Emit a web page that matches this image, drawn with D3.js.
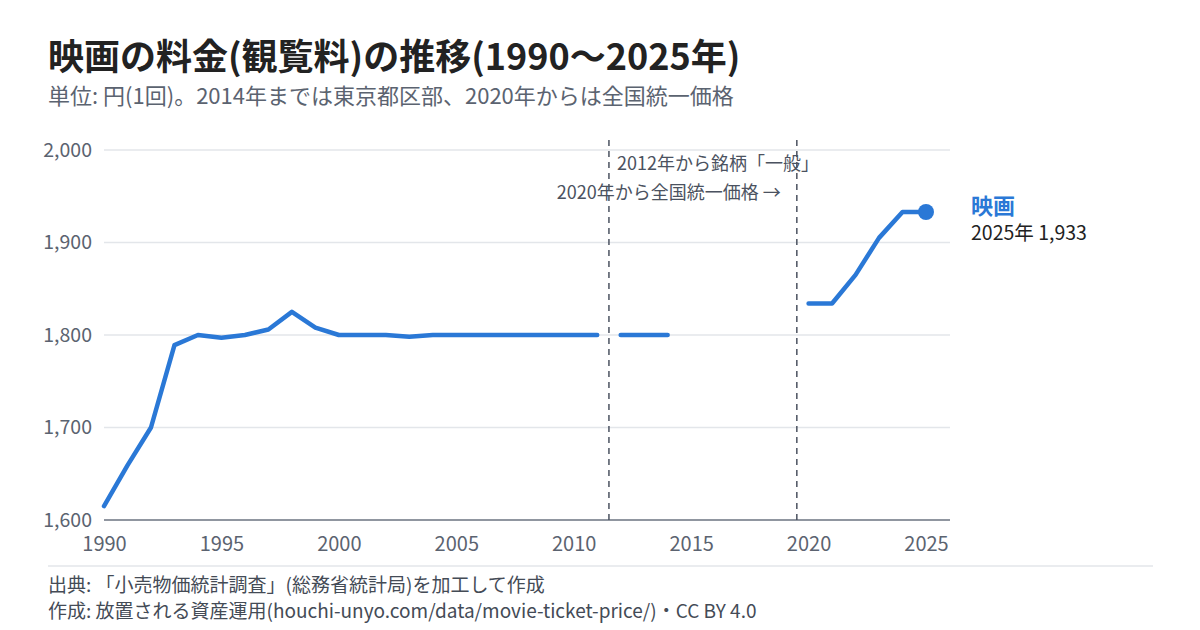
<!DOCTYPE html>
<html>
<head>
<meta charset="utf-8">
<script src="https://cdn.jsdelivr.net/npm/d3@7"></script>
<style>
  body { margin: 0; background: #fff; }
  text { font-family: "Noto Sans CJK JP", "Noto Sans", sans-serif; }
</style>
</head>
<body>
<script>
// Data: movie ticket price (yen), gaps where the series is broken
var years = [1990, 1991, 1992, 1993, 1994, 1995, 1996, 1997, 1998, 1999,
  2000, 2001, 2002, 2003, 2004, 2005, 2006, 2007, 2008, 2009, 2010, 2011,
  2012, 2013, 2014, 2015, 2016, 2017, 2018, 2019,
  2020, 2021, 2022, 2023, 2024, 2025];
var prices = [1615, 1659, 1700, 1789, 1800, 1797, 1800, 1806, 1825, 1808,
  1800, 1800, 1800, 1798, 1800, 1800, 1800, 1800, 1800, 1800, 1800, 1800,
  1800, 1800, 1800, null, null, null, null, null,
  1834, 1834, 1865, 1905, 1933, 1933];
// series breaks (segments are drawn separately)
var breakYears = [2012, 2020];
var markerYears = [2011.5, 2019.5];
var yTicks = [1600, 1700, 1800, 1900, 2000];
var xTicks = [1990, 1995, 2000, 2005, 2010, 2015, 2020, 2025];

var width = 1200, height = 630;
var svg = d3.select("body").append("svg")
  .attr("width", width)
  .attr("height", height);

var x = d3.scaleLinear().domain([1990, 2025]).range([104, 926]);
var y = d3.scaleLinear().domain([1600, 2000]).range([520, 150]);

// Title and subtitle
svg.append("text")
  .attr("x", 48).attr("y", 70)
  .attr("font-size", 36).attr("font-weight", 700).attr("fill", "#222")
  .text("映画の料金(観覧料)の推移(1990〜2025年)");
svg.append("text")
  .attr("x", 48).attr("y", 104)
  .attr("font-size", 22).attr("fill", "#5b6370")
  .text("単位: 円(1回)。2014年までは東京都区部、2020年からは全国統一価格");

// gridlines
svg.append("g").selectAll("line")
  .data(yTicks.slice(1))
  .enter().append("line")
  .attr("x1", 104).attr("x2", 950)
  .attr("y1", d => y(d)).attr("y2", d => y(d))
  .attr("stroke", "#e3e6ea").attr("stroke-width", 1.5);

// y axis labels
var yAxis = d3.axisLeft(y).tickValues(yTicks).tickSize(0).tickPadding(12)
  .tickFormat(d3.format(","));
var gy = svg.append("g").attr("transform", "translate(104,0)").call(yAxis);
gy.select(".domain").remove();
gy.selectAll("text").attr("font-size", 19.5).attr("fill", "#5b6370")
  .style("font-family", "'Noto Sans CJK JP', sans-serif");

// x axis
var xAxis = d3.axisBottom(x).tickValues(xTicks).tickSize(0).tickPadding(17)
  .tickFormat(d3.format("d"));
var gx = svg.append("g").attr("transform", "translate(0,520)").call(xAxis);
gx.select(".domain").remove();
gx.selectAll("text").attr("font-size", 20).attr("fill", "#5b6370")
  .style("font-family", "'Noto Sans CJK JP', sans-serif");
svg.append("line")
  .attr("x1", 104).attr("x2", 950).attr("y1", 520).attr("y2", 520)
  .attr("stroke", "#6b7380").attr("stroke-width", 1.5);

// dashed markers for series breaks
svg.append("g").selectAll("line")
  .data(markerYears)
  .enter().append("line")
  .attr("x1", d => x(d)).attr("x2", d => x(d))
  .attr("y1", 140).attr("y2", 520)
  .attr("stroke", "#4b5260").attr("stroke-width", 1.5)
  .attr("stroke-dasharray", "6,5");

svg.append("text")
  .attr("x", x(markerYears[0]) + 8).attr("y", 170)
  .attr("font-size", 18).attr("fill", "#4b5260")
  .text("2012年から銘柄「一般」");
svg.append("text")
  .attr("x", x(markerYears[1]) - 16).attr("y", 199)
  .attr("text-anchor", "end")
  .attr("font-size", 18).attr("fill", "#4b5260")
  .text("2020年から全国統一価格 →");

// line, split into segments
var data = years.map((d, i) => ({ year: d, value: prices[i] }));
var line = d3.line()
  .defined(d => d.value !== null)
  .x(d => x(d.year))
  .y(d => y(d.value));

var segments = [
  data.filter(d => d.year < breakYears[0]),
  data.filter(d => d.year >= breakYears[0] && d.year < breakYears[1]),
  data.filter(d => d.year >= breakYears[1])
];
svg.append("g").selectAll("path")
  .data(segments)
  .enter().append("path")
  .attr("d", line)
  .attr("fill", "none")
  .attr("stroke", "#2a78d6")
  .attr("stroke-width", 4.5)
  .attr("stroke-linejoin", "round")
  .attr("stroke-linecap", "round");

var last = data[data.length - 1];
svg.append("circle")
  .attr("cx", x(last.year)).attr("cy", y(last.value))
  .attr("r", 8).attr("fill", "#2a78d6");

svg.append("text")
  .attr("x", 971).attr("y", 214)
  .attr("font-size", 22).attr("font-weight", 700).attr("fill", "#2a78d6")
  .text("映画");
svg.append("text")
  .attr("x", 971).attr("y", 240)
  .attr("font-size", 19.5).attr("fill", "#222")
  .text(last.year + "年 " + d3.format(",")(last.value));

// footer
svg.append("line")
  .attr("x1", 48).attr("x2", 1153).attr("y1", 566).attr("y2", 566)
  .attr("stroke", "#e3e6ea").attr("stroke-width", 1.5);
svg.append("text")
  .attr("x", 48).attr("y", 592)
  .attr("font-size", 19).attr("fill", "#444b56")
  .text("出典: 「小売物価統計調査」(総務省統計局)を加工して作成");
svg.append("text")
  .attr("x", 48).attr("y", 618)
  .attr("font-size", 19).attr("fill", "#444b56")
  .text("作成: 放置される資産運用(houchi-unyo.com/data/movie-ticket-price/)・CC BY 4.0");
</script>
</body>
</html>
